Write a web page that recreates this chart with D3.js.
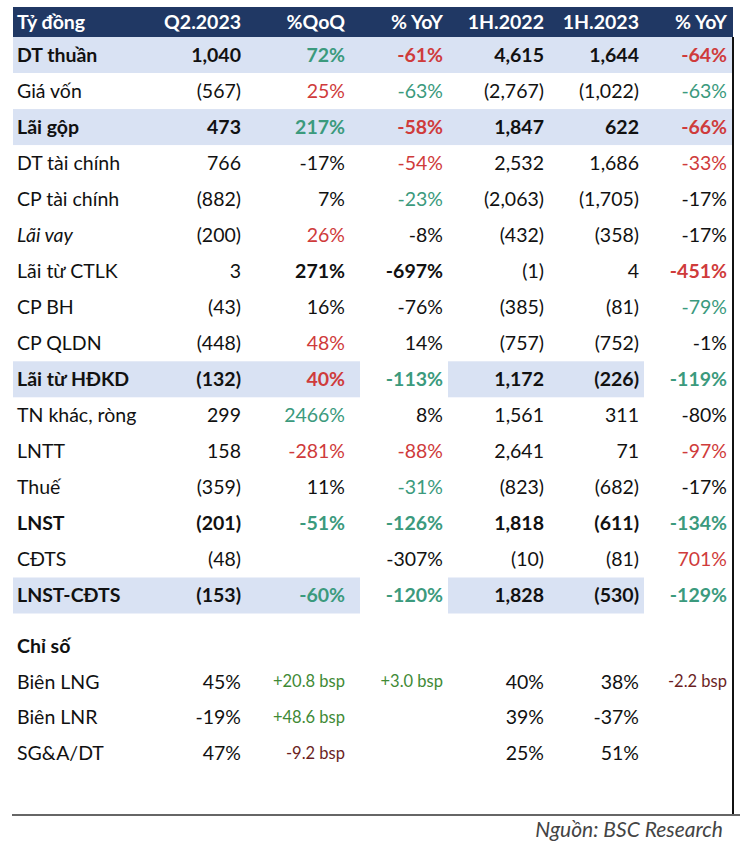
<!DOCTYPE html>
<html>
<head>
<meta charset="utf-8">
<script src="https://cdn.jsdelivr.net/npm/d3@7"></script>
<style>
  html, body { margin: 0; padding: 0; background: #fff; }
  svg { display: block; }
</style>
</head>
<body>
<svg id="chart" width="740" height="850"></svg>
<script>
// ---------- DATA ----------
const headers = ["Tỷ đồng", "Q2.2023", "%QoQ", "% YoY", "1H.2022", "1H.2023", "% YoY"];

const rowLabels = ["DT thuần", "Giá vốn", "Lãi gộp", "DT tài chính", "CP tài chính", "Lãi vay",
  "Lãi từ CTLK", "CP BH", "CP QLDN", "Lãi từ HĐKD", "TN khác, ròng", "LNTT", "Thuế",
  "LNST", "CĐTS", "LNST-CĐTS"];
const q2Values   = ["1,040", "(567)", "473", "766", "(882)", "(200)", "3", "(43)", "(448)", "(132)", "299", "158", "(359)", "(201)", "(48)", "(153)"];
const qoqValues  = ["72%", "25%", "217%", "-17%", "7%", "26%", "271%", "16%", "48%", "40%", "2466%", "-281%", "11%", "-51%", "", "-60%"];
const yoyValues  = ["-61%", "-63%", "-58%", "-54%", "-23%", "-8%", "-697%", "-76%", "14%", "-113%", "8%", "-88%", "-31%", "-126%", "-307%", "-120%"];
const h1y22Values = ["4,615", "(2,767)", "1,847", "2,532", "(2,063)", "(432)", "(1)", "(385)", "(757)", "1,172", "1,561", "2,641", "(823)", "1,818", "(10)", "1,828"];
const h1y23Values = ["1,644", "(1,022)", "622", "1,686", "(1,705)", "(358)", "4", "(81)", "(752)", "(226)", "311", "71", "(682)", "(611)", "(81)", "(530)"];
const yoy2Values = ["-64%", "-63%", "-66%", "-33%", "-17%", "-17%", "-451%", "-79%", "-1%", "-119%", "-80%", "-97%", "-17%", "-134%", "701%", "-129%"];

// tone of change cells: g = favourable (green), r = unfavourable (red), k = neutral
const qoqTone  = ["g","r","g","k","k","r","k","k","r","r","g","r","k","g","k","g"];
const yoyTone  = ["r","g","r","r","g","k","k","k","k","g","k","r","g","g","k","g"];
const yoy2Tone = ["r","g","r","r","k","k","r","g","k","g","k","r","k","g","r","g"];

// row emphasis: bold rows, italic rows, highlight type (full / partial / none)
const rowBold   = [1,0,1,0,0,0,0,0,0,1,0,0,0,1,0,1];
const rowItalic = [0,0,0,0,0,1,0,0,0,0,0,0,0,0,0,0];
const rowBand   = ["full","","full","","","","","","","part","","","","","","part"];
// bold change cells only (Lãi từ CTLK)
const cellBoldRow = 6;

const ratioTitle = "Chỉ số";
const ratioLabels = ["Biên LNG", "Biên LNR", "SG&A/DT"];
const ratioQ2   = ["45%", "-19%", "47%"];
const ratioQoQ  = ["+20.8 bsp", "+48.6 bsp", "-9.2 bsp"];
const ratioYoY  = ["+3.0 bsp", "", ""];
const ratioH122 = ["40%", "39%", "25%"];
const ratioH123 = ["38%", "-37%", "51%"];
const ratioYoY2 = ["-2.2 bsp", "", ""];
const ratioQoQTone  = ["bg", "bg", "br"];
const ratioYoYTone  = ["bg", "k", "k"];
const ratioYoY2Tone = ["br", "k", "k"];

const sourceText = "Nguồn: BSC Research";

// ---------- DRAW ----------
const svg = d3.select("#chart");
const FONT = "Lato, 'Open Sans', sans-serif";
const colors = { g: "#3b9a7d", r: "#cf3b3b", k: "#111111", bg: "#3f8a36", br: "#6b1f1f" };

const colKeys = ["label", "q2", "qoq", "yoy", "h122", "h123", "yoy2"];
const colRight = d3.scaleOrdinal().domain(colKeys).range([17, 241, 345, 443, 544, 639, 727]);
const rowY = d3.scaleLinear().domain([0, rowLabels.length - 1]).range([54.5, 595]);
const ratioY = d3.scaleLinear().domain([0, 3]).range([646, 753]);

const tableLeft = 13, tableRight = 733;
const bandH = 36;
const fs = 19.5;
const baseOff = 7;

// header
svg.append("rect").attr("x", tableLeft).attr("y", 7).attr("width", tableRight - tableLeft).attr("height", 30).attr("fill", "#203864");
svg.append("g").selectAll("text").data(headers).join("text")
  .attr("x", (d, i) => colRight(colKeys[i]))
  .attr("y", 22 + baseOff)
  .attr("text-anchor", (d, i) => i === 0 ? "start" : "end")
  .attr("font-family", FONT).attr("font-size", fs).attr("font-weight", 700)
  .attr("fill", "#ffffff").text(d => d);

// bands
const bandSegs = [];
rowBand.forEach((b, i) => {
  if (b === "full") bandSegs.push({ i, x0: tableLeft, x1: tableRight });
  else if (b === "part") { bandSegs.push({ i, x0: tableLeft, x1: 360 }); bandSegs.push({ i, x0: 448, x1: 644 }); }
});
svg.append("g").selectAll("rect").data(bandSegs).join("rect")
  .attr("x", d => d.x0).attr("width", d => d.x1 - d.x0)
  .attr("y", d => rowY(d.i) - bandH / 2 + 0.5).attr("height", bandH)
  .attr("fill", "#d9e2f3");

// cells
const cells = [];
rowLabels.forEach((lab, i) => {
  const b = rowBold[i] ? 700 : 400;
  cells.push({ x: colRight("label"), y: rowY(i), t: lab, anchor: "start", w: b, it: rowItalic[i], c: colors.k });
  cells.push({ x: colRight("q2"), y: rowY(i), t: q2Values[i], anchor: "end", w: b, c: colors.k });
  const cb = (i === cellBoldRow) ? 700 : b;
  cells.push({ x: colRight("qoq"), y: rowY(i), t: qoqValues[i], anchor: "end", w: cb, c: colors[qoqTone[i]] });
  cells.push({ x: colRight("yoy"), y: rowY(i), t: yoyValues[i], anchor: "end", w: cb, c: colors[yoyTone[i]] });
  cells.push({ x: colRight("h122"), y: rowY(i), t: h1y22Values[i], anchor: "end", w: b, c: colors.k });
  cells.push({ x: colRight("h123"), y: rowY(i), t: h1y23Values[i], anchor: "end", w: b, c: colors.k });
  cells.push({ x: colRight("yoy2"), y: rowY(i), t: yoy2Values[i], anchor: "end", w: cb, c: colors[yoy2Tone[i]] });
});
cells.push({ x: colRight("label"), y: ratioY(0), t: ratioTitle, anchor: "start", w: 700, c: colors.k });
ratioLabels.forEach((lab, j) => {
  const y = ratioY(j + 1);
  cells.push({ x: colRight("label"), y, t: lab, anchor: "start", w: 400, c: colors.k });
  cells.push({ x: colRight("q2"), y, t: ratioQ2[j], anchor: "end", w: 400, c: colors.k });
  cells.push({ x: colRight("qoq"), y, t: ratioQoQ[j], anchor: "end", w: 400, c: colors[ratioQoQTone[j]], small: 1 });
  cells.push({ x: colRight("yoy"), y, t: ratioYoY[j], anchor: "end", w: 400, c: colors[ratioYoYTone[j]], small: 1 });
  cells.push({ x: colRight("h122"), y, t: ratioH122[j], anchor: "end", w: 400, c: colors.k });
  cells.push({ x: colRight("h123"), y, t: ratioH123[j], anchor: "end", w: 400, c: colors.k });
  cells.push({ x: colRight("yoy2"), y, t: ratioYoY2[j], anchor: "end", w: 400, c: colors[ratioYoY2Tone[j]], small: 1 });
});

svg.append("g").selectAll("text").data(cells.filter(d => d.t !== "")).join("text")
  .attr("x", d => d.x)
  .attr("y", d => d.y + (d.small ? 5.5 : baseOff))
  .attr("text-anchor", d => d.anchor)
  .attr("font-family", FONT)
  .attr("font-size", d => d.small ? 16.5 : fs)
  .attr("font-weight", d => d.w)
  .attr("font-style", d => d.it ? "italic" : "normal")
  .attr("fill", d => d.c)
  .text(d => d.t);

// frame lines
svg.append("line").attr("x1", tableRight).attr("x2", tableRight).attr("y1", 37).attr("y2", 815)
  .attr("stroke", "#111").attr("stroke-width", 2);
svg.append("line").attr("x1", 12).attr("x2", 740).attr("y1", 815).attr("y2", 815)
  .attr("stroke", "#666").attr("stroke-width", 2);

// source
svg.append("text").attr("x", 723).attr("y", 837).attr("text-anchor", "end")
  .attr("font-family", FONT).attr("font-size", 21).attr("font-style", "italic")
  .attr("fill", "#444").text(sourceText);
</script>
</body>
</html>
